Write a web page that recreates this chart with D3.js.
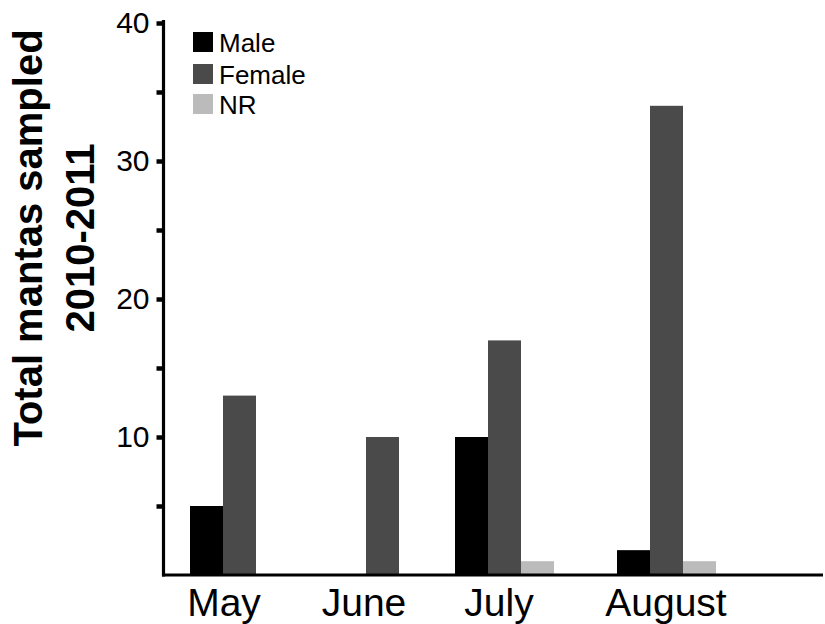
<!DOCTYPE html>
<html>
<head>
<meta charset="utf-8">
<script src="https://cdn.jsdelivr.net/npm/d3@7"></script>
<style>
  html, body { margin: 0; padding: 0; background: #fff; }
  svg { display: block; font-family: "Liberation Sans", Arial, Helvetica, sans-serif; }
</style>
</head>
<body>
<svg id="chart" width="825" height="624"></svg>
<script>
// ---- data ----
const months = ["May", "June", "July", "August"];
const seriesNames = ["Male", "Female", "NR"];
const male   = [5, 0, 10, 1.8];
const female = [13, 10, 17, 34];
const nr     = [0, 0, 1, 1];
const yTicks = [0, 5, 10, 15, 20, 25, 30, 35, 40];
const yTickLabels = ["10", "20", "30", "40"];
const titleLines = ["Total mantas sampled", "2010-2011"];

// ---- layout ----
const svg = d3.select("#chart");
const colors = d3.scaleOrdinal().domain(seriesNames).range(["#000000", "#4a4a4a", "#bbbbbb"]);
const y = d3.scaleLinear().domain([0, 40]).range([575, 23]);
const x0 = d3.scaleOrdinal().domain(months).range([190, 333, 455, 617]);
const x1 = d3.scaleBand().domain(seriesNames).range([0, 99]);
const xLabel = d3.scaleOrdinal().domain(months).range([224, 364, 499, 666]);

const values = { Male: male, Female: female, NR: nr };
const bars = [];
seriesNames.forEach(s => months.forEach((m, i) => {
  if (values[s][i] > 0) bars.push({ month: m, series: s, value: values[s][i] });
}));

// bars
svg.append("g").selectAll("rect").data(bars).join("rect")
  .attr("x", d => x0(d.month) + x1(d.series))
  .attr("width", x1.bandwidth())
  .attr("y", d => y(d.value))
  .attr("height", d => y(0) - y(d.value))
  .attr("fill", d => colors(d.series));

// y axis
const yAxis = d3.axisLeft(y).tickValues(yTicks).tickSize(7).tickFormat(d => yTickLabels.includes(String(d)) ? String(d) : "").tickPadding(7);
const gy = svg.append("g").attr("transform", "translate(163.5,0)").call(yAxis);
gy.select(".domain").remove();
gy.selectAll(".tick line").attr("stroke", "#000").attr("stroke-width", 4.5);
gy.selectAll(".tick").filter(d => d === 0).select("line").remove();
gy.selectAll(".tick text").attr("font-size", 30).attr("fill", "#000")
  .attr("font-family", "Liberation Sans, Arial, sans-serif").attr("dy", "0.33em");
gy.append("line").attr("x1", 0).attr("x2", 0).attr("y1", y(40) - 3).attr("y2", y(0) + 1.5)
  .attr("stroke", "#000").attr("stroke-width", 3.2);

// x axis line
svg.append("line").attr("x1", 162).attr("x2", 823).attr("y1", y(0)).attr("y2", y(0))
  .attr("stroke", "#000").attr("stroke-width", 3.2);

// x labels
svg.append("g").selectAll("text").data(months).join("text")
  .attr("x", d => xLabel(d)).attr("y", 616)
  .attr("text-anchor", "middle").attr("font-size", 39).attr("fill", "#000")
  .text(d => d);

// legend
const legendY = d3.scaleOrdinal().domain(seriesNames).range([42, 74, 104]);
const lg = svg.append("g").selectAll("g").data(seriesNames).join("g")
  .attr("transform", d => `translate(193,${legendY(d)})`);
lg.append("rect").attr("x", 0).attr("y", -10).attr("width", 20).attr("height", 20)
  .attr("fill", d => colors(d));
lg.append("text").attr("x", 26).attr("y", 10).attr("font-size", 26).attr("fill", "#000").text(d => d);

// y title
const title = svg.append("text").attr("transform", "translate(0,238) rotate(-90)")
  .attr("text-anchor", "middle").attr("font-weight", "bold").attr("font-size", 40).attr("fill", "#000");
title.selectAll("tspan").data(titleLines).join("tspan")
  .attr("x", 0).attr("y", (d, i) => i === 0 ? 42 : 94).text(d => d);
</script>
</body>
</html>
